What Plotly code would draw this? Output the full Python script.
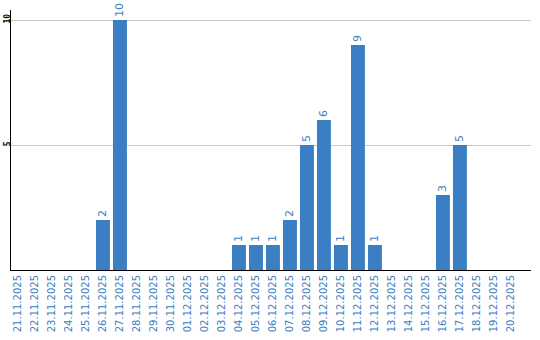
import plotly.graph_objects as go

dates = ["21.11.2025", "22.11.2025", "23.11.2025", "24.11.2025", "25.11.2025",
         "26.11.2025", "27.11.2025", "28.11.2025", "29.11.2025", "30.11.2025",
         "01.12.2025", "02.12.2025", "03.12.2025", "04.12.2025", "05.12.2025",
         "06.12.2025", "07.12.2025", "08.12.2025", "09.12.2025", "10.12.2025",
         "11.12.2025", "12.12.2025", "13.12.2025", "14.12.2025", "15.12.2025",
         "16.12.2025", "17.12.2025", "18.12.2025", "19.12.2025", "20.12.2025"]
counts = [0, 0, 0, 0, 0, 2, 10, 0, 0, 0,
          0, 0, 0, 1, 1, 1, 2, 5, 6, 1,
          9, 1, 0, 0, 0, 3, 5, 0, 0, 0]
y_ticks = [5, 10]

blue = "#3a7ec3"
labels = [str(v) if v else "" for v in counts]

fig = go.Figure(go.Bar(
    x=dates, y=counts, text=labels, textposition="outside", textangle=-90,
    textfont=dict(family="DejaVu Sans", size=11, color=blue),
    marker=dict(color=blue, line=dict(width=0)),
    cliponaxis=False, constraintext="none",
))
fig.update_layout(
    width=540, height=340,
    margin=dict(l=11, r=9, t=10, b=70),
    paper_bgcolor="white", plot_bgcolor="white",
    bargap=0.18, showlegend=False,
    xaxis=dict(type="category", range=[-0.41, 30.18], tickangle=-90,
               tickfont=dict(family="DejaVu Sans", size=10, color=blue),
               showgrid=False, showline=True, linecolor="black", linewidth=1,
               ticks="", automargin=False),
    yaxis=dict(range=[0, 10.4], tickvals=y_ticks, tickangle=-90,
               tickfont=dict(family="DejaVu Sans Mono", size=8, color="black",
                             weight="bold"),
               ticklabelstandoff=-3,
               showgrid=True, gridcolor="#c8c8c8", gridwidth=1,
               showline=True, linecolor="black", linewidth=1,
               zeroline=False, ticks="", automargin=False),
)
fig.write_html("out.html")
